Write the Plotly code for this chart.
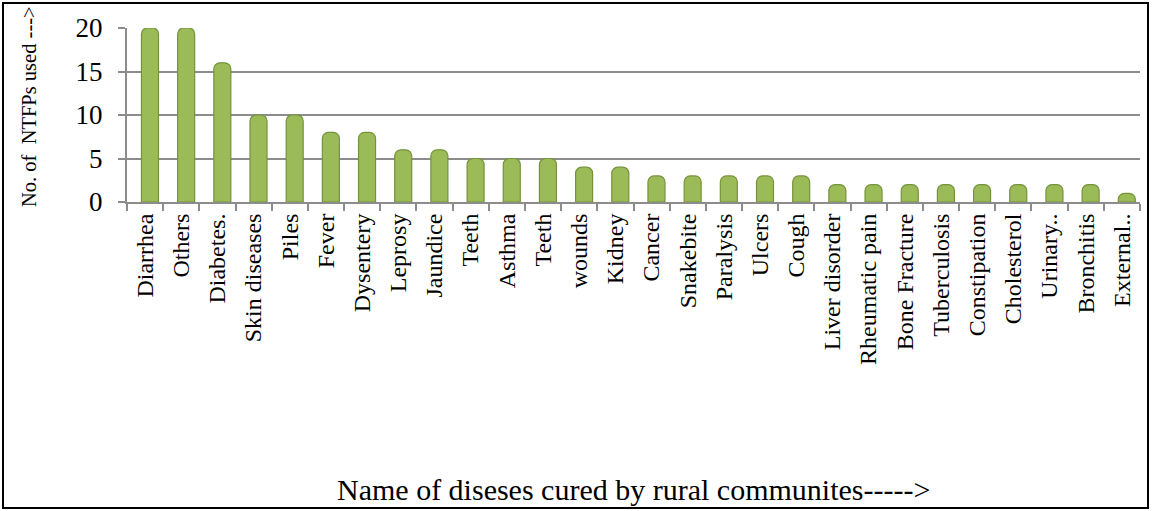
import plotly.graph_objects as go

categories = ["Diarrhea", "Others", "Diabetes.", "Skin diseases", "Piles", "Fever",
              "Dysentery", "Leprosy", "Jaundice", "Teeth", "Asthma", "Teeth", "wounds",
              "Kidney", "Cancer", "Snakebite", "Paralysis", "Ulcers", "Cough",
              "Liver disorder", "Rheumatic pain", "Bone Fracture", "Tuberculosis",
              "Constipation", "Cholesterol", "Urinary..", "Bronchitis", "External.."]
values = [20, 20, 16, 10, 10, 8, 8, 6, 6, 5, 5, 5, 4, 4, 3, 3, 3, 3, 3,
          2, 2, 2, 2, 2, 2, 2, 2, 1]
y_ticks = [0, 5, 10, 15, 20]

W, H = 1152, 511
L, R, T, B = 127, 12, 28, 309
pw, ph = W - L - R, H - T - B

def px_x(p):
    return (p - L) / pw

def px_y(p):
    return (H - B - p) / ph

idx = list(range(len(categories)))
fig = go.Figure()
fig.add_trace(go.Bar(
    x=idx, y=values, width=0.47, offset=-0.1,
    marker=dict(color="#9BBB59", line=dict(color="#76933C", width=1.2),
                cornerradius=6),
))

font_family = "Liberation Serif, Times New Roman, serif"
fig.update_layout(
    width=W, height=H,
    margin=dict(l=L, r=R, t=T, b=B),
    paper_bgcolor="white", plot_bgcolor="white",
    showlegend=False,
    font=dict(family=font_family, color="black"),
    xaxis=dict(
        range=[-0.5, len(categories) - 0.5],
        tickmode="array", tickvals=idx, ticktext=categories,
        tickangle=-90, ticks="", showgrid=False,
        showline=True, linecolor="#8C8C8C", linewidth=2,
        tickfont=dict(size=24, family=font_family, color="black"),
        minor=dict(tickmode="array", tickvals=[i - 0.5 for i in idx] + [len(idx) - 0.5],
                   ticks="outside", ticklen=7, tickcolor="#8C8C8C", tickwidth=2,
                   showgrid=False),
        zeroline=False,
    ),
    yaxis=dict(
        range=[0, 20], tickmode="array", tickvals=y_ticks,
        ticks="outside", ticklen=7, tickcolor="#8C8C8C", tickwidth=2,
        ticklabelstandoff=10,
        showline=True, linecolor="#8C8C8C", linewidth=2,
        showgrid=True, gridcolor="#8C8C8C", gridwidth=1.5,
        tickfont=dict(size=27, family=font_family, color="black"),
        zeroline=False,
    ),
)

fig.add_annotation(
    text="No. of  NTFPs used --->", xref="paper", yref="paper",
    x=px_x(29), y=px_y(107), textangle=-90, showarrow=False,
    font=dict(size=20.5, family=font_family, color="black"),
    xanchor="center", yanchor="middle",
)
fig.add_annotation(
    text="Name of diseses cured by rural communites----->", xref="paper", yref="paper",
    x=px_x(633), y=px_y(489), showarrow=False,
    font=dict(size=30, family=font_family, color="black"),
    xanchor="center", yanchor="middle",
)
fig.add_shape(
    type="rect", xref="paper", yref="paper",
    x0=px_x(3), x1=px_x(1148), y0=px_y(508), y1=px_y(3),
    line=dict(color="black", width=2), fillcolor="rgba(0,0,0,0)",
)

fig.write_html("out.html")
